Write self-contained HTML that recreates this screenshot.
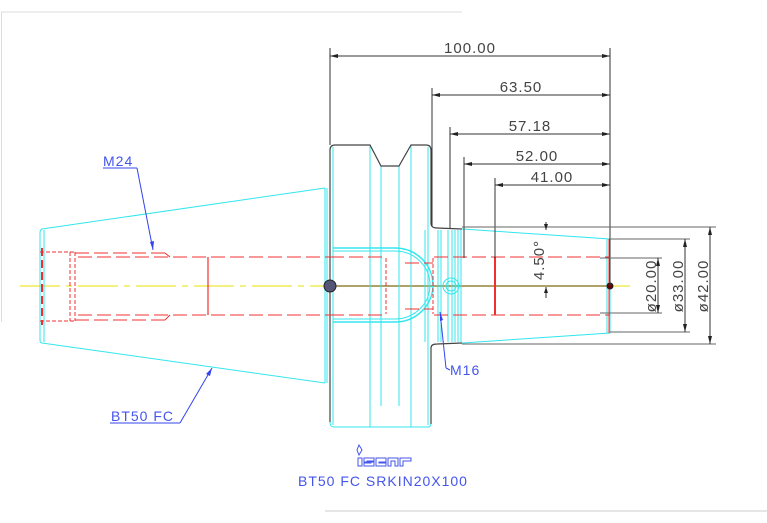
<!DOCTYPE html>
<html><head><style>
html,body{margin:0;padding:0;background:#fff;}
svg{display:block;}
text{font-family:"Liberation Sans",sans-serif;letter-spacing:1px;}
</style></head><body>
<svg width="767" height="523" viewBox="0 0 767 523" xmlns="http://www.w3.org/2000/svg">
<rect width="767" height="523" fill="#fff"/>
<line x1="1" y1="12" x2="462" y2="12" stroke="#ddd" stroke-width="1"/>
<line x1="1.5" y1="12" x2="1.5" y2="322" stroke="#ddd" stroke-width="1"/>
<line x1="325" y1="511" x2="767" y2="511" stroke="#ccc" stroke-width="1"/>

<line x1="20" y1="286" x2="630" y2="286" stroke="#e8e000" stroke-width="1" stroke-dasharray="40,6,6,6"/>
<line x1="330" y1="286" x2="610" y2="286" stroke="#7a6a10" stroke-width="1.2"/>

<g fill="none" stroke="#33e6ee" stroke-width="1">
<path d="M325,188 L42,229 Q40,230 40,233 L40,340 Q40,343 42,343 L325,383"/>
<line x1="44" y1="230" x2="44" y2="342"/>
<line x1="325" y1="188" x2="325" y2="383"/>
<line x1="327" y1="188" x2="327" y2="383"/>
<line x1="333" y1="147" x2="333" y2="425"/>
<line x1="370" y1="145" x2="370" y2="427"/>
<line x1="381" y1="166" x2="381" y2="406"/>
<line x1="399" y1="166" x2="399" y2="406"/>
<line x1="411" y1="145" x2="411" y2="427"/>
<line x1="428" y1="147" x2="428" y2="425"/>
<line x1="425" y1="230" x2="425" y2="342"/>
<line x1="438" y1="230" x2="438" y2="342"/>
<line x1="441" y1="230" x2="441" y2="342"/>
<line x1="448" y1="230" x2="448" y2="342"/>
<line x1="452" y1="230" x2="452" y2="342"/>
<line x1="455" y1="230" x2="455" y2="342"/>
<line x1="458" y1="230" x2="458" y2="342"/>
<line x1="461" y1="230" x2="461" y2="342"/>
<path d="M333,248 L395,248 A38,37 0 0 1 395,322 L333,322" stroke-width="1.5"/>
<path d="M333,251 L395,251 A35,34 0 0 1 395,319 L333,319"/>
<circle cx="451" cy="286" r="8"/>
<circle cx="451" cy="286" r="5"/>
<path d="M462,229 L610,239 L610,333 L462,343"/>
<line x1="607" y1="239" x2="607" y2="333"/>
<path d="M330,150 L330,422 Q330,427 334,427 L428,427 Q431,427 431,423"/>
</g>
<g fill="none" stroke="#444" stroke-width="1.2">
<path d="M330,150 Q330,145 335,145 L370,145 L381,166 L399,166 L411,145 L426,145 Q431,145 431,150 L431,223 Q431,228 437,228 L462,229"/>
<path d="M330,422 L330,150"/>
<path d="M431,424 L431,348 Q431,344 437,344 L462,343"/>
</g>

<g fill="none" stroke="#f03030" stroke-width="1" stroke-dasharray="14,5">
<line x1="40" y1="252" x2="75" y2="252" stroke-dasharray="4,2"/>
<line x1="40" y1="321" x2="75" y2="321" stroke-dasharray="4,2"/>
<line x1="75" y1="253" x2="165" y2="253"/>
<line x1="75" y1="320" x2="165" y2="320"/>
<path d="M165,253 L170,257"/><path d="M165,320 L170,315"/>
<line x1="78" y1="257" x2="330" y2="257"/>
<line x1="78" y1="315" x2="330" y2="315"/>
<line x1="330" y1="257" x2="385" y2="257"/>
<line x1="330" y1="315" x2="385" y2="315"/>
<line x1="405" y1="263" x2="433" y2="263"/>
<line x1="405" y1="309" x2="433" y2="309"/>
<line x1="434" y1="257" x2="610" y2="257"/>
<line x1="434" y1="315" x2="610" y2="315"/>
<line x1="70" y1="252" x2="70" y2="321" stroke-dasharray="4,2"/>
<line x1="75" y1="252" x2="75" y2="321" stroke-dasharray="4,2"/>
<line x1="386" y1="258" x2="386" y2="314" stroke-dasharray="4,2"/>
<line x1="433" y1="258" x2="433" y2="314" stroke-dasharray="4,2"/>
</g>
<g stroke="#f03030" fill="none">
<line x1="42" y1="248" x2="42" y2="325" stroke-width="2" stroke-dasharray="8,4"/>
<line x1="208" y1="257" x2="208" y2="315" stroke-width="1.2"/>
<line x1="495" y1="257" x2="495" y2="315" stroke-width="2"/>
<line x1="609" y1="239" x2="609" y2="333" stroke-width="1"/>
</g>
<circle cx="330" cy="286" r="6" fill="#557" stroke="#222"/>
<circle cx="610" cy="286" r="3" fill="#600" stroke="#222"/>

<g stroke="#333" stroke-width="1" fill="none">
<line x1="330" y1="48" x2="330" y2="145"/>
<line x1="610" y1="48" x2="610" y2="286"/>
<line x1="432" y1="88" x2="432" y2="226"/>
<line x1="450" y1="127" x2="450" y2="228"/>
<line x1="464" y1="157" x2="464" y2="258"/>
<line x1="495" y1="178" x2="495" y2="258"/>
<line x1="330" y1="56" x2="610" y2="56"/>
<line x1="432" y1="95" x2="610" y2="95"/>
<line x1="450" y1="134" x2="610" y2="134"/>
<line x1="464" y1="164" x2="610" y2="164"/>
<line x1="495" y1="185" x2="610" y2="185"/>
<line x1="462" y1="227" x2="716" y2="227" stroke="#666"/>
<line x1="462" y1="344" x2="716" y2="344" stroke="#666"/>
<line x1="610" y1="239" x2="690" y2="239" stroke="#666"/>
<line x1="610" y1="332" x2="690" y2="332" stroke="#666"/>
<line x1="600" y1="258" x2="662" y2="258" stroke="#666"/>
<line x1="600" y1="313" x2="662" y2="313" stroke="#666"/>
<line x1="710" y1="227" x2="710" y2="344"/>
<line x1="685" y1="239" x2="685" y2="332"/>
<line x1="658" y1="258" x2="658" y2="313"/>
<line x1="546" y1="222" x2="546" y2="230"/>
<line x1="546" y1="287" x2="546" y2="298"/>
</g>
<g fill="#222">
<path d="M330,56 l8,-2 v4z"/><path d="M610,56 l-8,-2 v4z"/>
<path d="M432,95 l8,-2 v4z"/><path d="M610,95 l-8,-2 v4z"/>
<path d="M450,134 l8,-2 v4z"/><path d="M610,134 l-8,-2 v4z"/>
<path d="M464,164 l8,-2 v4z"/><path d="M610,164 l-8,-2 v4z"/>
<path d="M495,185 l8,-2 v4z"/><path d="M610,185 l-8,-2 v4z"/>
<path d="M710,227 l-2,8 h4z"/><path d="M710,344 l-2,-8 h4z"/>
<path d="M685,239 l-2,8 h4z"/><path d="M685,332 l-2,-8 h4z"/>
<path d="M658,258 l-2,8 h4z"/><path d="M658,313 l-2,-8 h4z"/>
<path d="M546,230 l-2,-6 h4z"/><path d="M546,287 l-2,6 h4z"/>
</g>
<g fill="#444" font-size="15">
<text x="470" y="53" text-anchor="middle">100.00</text>
<text x="521" y="92" text-anchor="middle">63.50</text>
<text x="530" y="131" text-anchor="middle">57.18</text>
<text x="537" y="161" text-anchor="middle">52.00</text>
<text x="552" y="182" text-anchor="middle">41.00</text>
<text transform="translate(544,260) rotate(-90)" text-anchor="middle">4.50°</text>
<text transform="translate(656,286) rotate(-90)" text-anchor="middle">ø20.00</text>
<text transform="translate(683,286) rotate(-90)" text-anchor="middle">ø33.00</text>
<text transform="translate(708,286) rotate(-90)" text-anchor="middle">ø42.00</text>
</g>

<g stroke="#3344ee" fill="none" stroke-width="1">
<line x1="103" y1="168" x2="137" y2="168"/>
<line x1="137" y1="168" x2="153" y2="250"/>
<line x1="110" y1="423" x2="180" y2="423"/>
<line x1="180" y1="423" x2="212" y2="368"/>
<line x1="446" y1="368" x2="440" y2="312"/>
<line x1="446" y1="368" x2="450" y2="370"/>
</g>
<g fill="#3344ee">
<path d="M153,250 l-3,-8 l4,-1z"/>
<path d="M212,368 l-2,8 l-4,-2z"/>
<path d="M440,312 l0,9 l3,-1z"/>
</g>
<g fill="#4455ee" font-size="14">
<text x="103" y="166">M24</text>
<text x="111" y="421">BT50 FC</text>
<text x="450" y="375">M16</text>
<text x="298" y="486" font-size="14" letter-spacing="1.6">BT50 FC SRKIN20X100</text>
</g>
<g stroke="#4455ee" fill="none" stroke-width="1">
<path d="M359,445 l3,5 l-3,5 l-2,-5z"/>
<path d="M358,458 h4 v8 h-4z"/>
<path d="M364,458 h10 v3 h-7 v1 h7 v4 h-10 v-3 h7 v-1 h-7z"/>
<path d="M376,458 h10 v4 h-7 v1 h7 v3 h-10z"/>
<path d="M388,458 h10 v8 h-3 v-5 h-4 v5 h-3z"/>
<path d="M400,458 h11 v3 h-8 v5 h-3z"/>
</g>
</svg>
</body></html>
